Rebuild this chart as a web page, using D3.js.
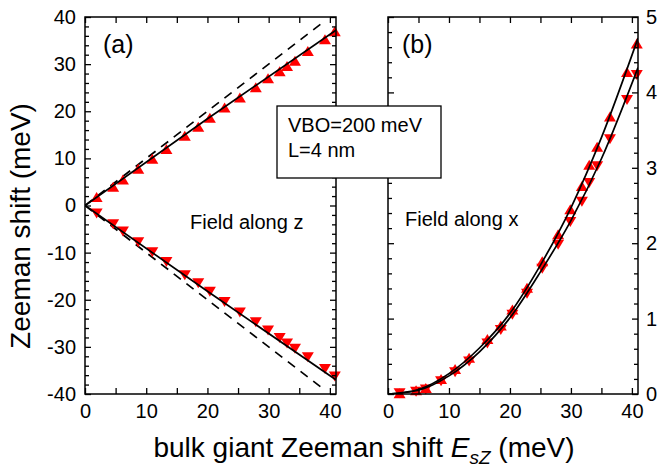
<!DOCTYPE html>
<html>
<head>
<meta charset="utf-8">
<script src="https://cdn.jsdelivr.net/npm/d3@7"></script>
<style>
  html, body { margin: 0; padding: 0; background: #fff; }
  svg { display: block; font-family: "Liberation Sans", Arial, Helvetica, sans-serif; }
  .axis text { font-size: 20px; fill: #000; }
  .axis line { stroke: #000; stroke-width: 1.3px; }
  .axis path.domain { display: none; }
</style>
</head>
<body>
<svg id="chart" width="659" height="474"></svg>
<script>
// ---------- data ----------
// bulk giant Zeeman shift values (meV) at which the points were computed
const esz = [1.9, 4.6, 6.2, 8.7, 11.0, 13.3, 16.3, 18.5, 20.4, 22.8, 25.3, 27.9, 29.9, 31.8, 33.0, 34.3, 36.4, 39.2, 40.8];
// panel (a): field along z
const zUp   = [1.8, 4.0, 5.5, 7.8, 9.9, 12.0, 14.8, 16.7, 18.6, 20.8, 22.9, 25.1, 27.0, 28.5, 29.6, 30.7, 32.8, 35.3, 37.0];
const zDown = [-1.7, -4.0, -5.5, -7.8, -9.9, -12.0, -14.8, -16.5, -18.3, -20.5, -22.7, -24.8, -26.5, -28.1, -29.3, -30.4, -32.2, -34.7, -36.3];
// fitted (solid) lines, panel (a)
const zFitX    = [0, 20, 41];
const zFitUp   = [0, 18.4, 37.2];
const zFitDown = [0, -18.2, -37.0];
// reference dashed lines (E = +/- Esz), panel (a)
const zRefX    = [0, 38.9];
const zRefUp   = [0, 38.9];
const zRefDown = [0, -38.9];
// panel (b): field along x
const xUp   = [0.01, 0.05, 0.08, 0.20, 0.33, 0.48, 0.73, 0.91, 1.12, 1.41, 1.76, 2.12, 2.45, 2.76, 3.04, 3.28, 3.68, 4.27, 4.65];
const xDown = [0.01, 0.03, 0.06, 0.17, 0.29, 0.43, 0.67, 0.85, 1.05, 1.33, 1.66, 1.98, 2.28, 2.55, 2.80, 3.02, 3.38, 3.90, 4.23];
// fitted curves, panel (b)
const xFitX    = [0, 5, 10, 15, 20, 25, 30, 35, 41];
const xFitUp   = [0, 0.06, 0.27, 0.61, 1.07, 1.71, 2.47, 3.40, 4.72];
const xFitDown = [0, 0.05, 0.24, 0.56, 1.01, 1.62, 2.30, 3.12, 4.33];
// ticks
const xTicks = [0, 5, 10, 15, 20, 25, 30, 35, 40];
const xTickLabels = [0, 10, 20, 30, 40];
const aYMajor = [-40, -30, -20, -10, 0, 10, 20, 30, 40];
const bYMajor = [0, 1, 2, 3, 4, 5];
const legendLines = ["VBO=200 meV", "L=4 nm"];

// ---------- layout ----------
const svg = d3.select("#chart");
const RED = "#ff0000";
const A = { x0: 85, x1: 336, y0: 394, y1: 17 };
const B = { x0: 388, x1: 638, y0: 394, y1: 17 };

const xa = d3.scaleLinear().domain([0, 41]).range([A.x0, A.x1]);
const ya = d3.scaleLinear().domain([-40, 40]).range([A.y0, A.y1]);
const xb = d3.scaleLinear().domain([0, 41]).range([B.x0, B.x1]);
const yb = d3.scaleLinear().domain([0, 5]).range([B.y0, B.y1]);

const aYMinor = d3.range(-40, 40.01, 2).filter(v => v % 10 !== 0);
const bYMinor = d3.range(0, 50, 2).map(v => v / 10).filter(v => Math.abs(v - Math.round(v)) > 1e-6);

const defs = svg.append("defs");
function clip(id, P) {
  defs.append("clipPath").attr("id", id).append("rect")
    .attr("x", P.x0).attr("y", P.y1).attr("width", P.x1 - P.x0).attr("height", P.y0 - P.y1);
}
clip("clipA", A); clip("clipB", B);

function drawAxes(P, x, y, yMajor, yMinor, rightLabels) {
  const fmtX = d => xTickLabels.includes(d) ? d : "";
  svg.append("g").attr("class", "axis").attr("transform", `translate(0,${P.y0})`)
    .call(d3.axisBottom(x).tickValues(xTicks).tickSize(-6).tickSizeOuter(0).tickPadding(10).tickFormat(fmtX));
  svg.append("g").attr("class", "axis").attr("transform", `translate(0,${P.y1})`)
    .call(d3.axisTop(x).tickValues(xTicks).tickSize(-6).tickSizeOuter(0).tickFormat(""));
  // left
  svg.append("g").attr("class", "axis").attr("transform", `translate(${P.x0},0)`)
    .call(d3.axisLeft(y).tickValues(yMajor).tickSize(-6).tickSizeOuter(0).tickPadding(9)
      .tickFormat(rightLabels ? () => "" : d => d));
  svg.append("g").attr("class", "axis").attr("transform", `translate(${P.x0},0)`)
    .call(d3.axisLeft(y).tickValues(yMinor).tickSize(-4).tickSizeOuter(0).tickFormat(""));
  // right
  svg.append("g").attr("class", "axis").attr("transform", `translate(${P.x1},0)`)
    .call(d3.axisRight(y).tickValues(yMajor).tickSize(-6).tickSizeOuter(0).tickPadding(8)
      .tickFormat(rightLabels ? d => d : () => ""));
  svg.append("g").attr("class", "axis").attr("transform", `translate(${P.x1},0)`)
    .call(d3.axisRight(y).tickValues(yMinor).tickSize(-4).tickSizeOuter(0).tickFormat(""));
  svg.append("rect").attr("x", P.x0).attr("y", P.y1).attr("width", P.x1 - P.x0).attr("height", P.y0 - P.y1)
    .attr("fill", "none").attr("stroke", "#000").attr("stroke-width", 1.5);
}

function drawLine(xs, ys, x, y, clipId, dashed, curve) {
  svg.append("path")
    .datum(xs.map((d, i) => [d, ys[i]]))
    .attr("clip-path", `url(#${clipId})`)
    .attr("fill", "none").attr("stroke", "#000").attr("stroke-width", 1.7)
    .attr("stroke-dasharray", dashed ? "9,7" : null)
    .attr("d", d3.line().x(d => x(d[0])).y(d => y(d[1])).curve(curve || d3.curveLinear));
}

const TW = 12, TH = 10;
const triUp = `M0,${-TH / 2}L${TW / 2},${TH / 2}L${-TW / 2},${TH / 2}Z`;
const triDown = `M0,${TH / 2}L${TW / 2},${-TH / 2}L${-TW / 2},${-TH / 2}Z`;
function drawMarks(xs, ys, x, y, shape) {
  svg.append("g").selectAll("path").data(xs.map((d, i) => [d, ys[i]])).join("path")
    .attr("d", shape).attr("fill", RED)
    .attr("transform", d => `translate(${x(d[0])},${y(d[1])})`);
}

// ---------- panel (a) ----------
drawLine(zRefX, zRefUp, xa, ya, "clipA", true);
drawLine(zRefX, zRefDown, xa, ya, "clipA", true);
drawMarks(esz, zUp, xa, ya, triUp);
drawMarks(esz, zDown, xa, ya, triDown);
drawLine(zFitX, zFitUp, xa, ya, "clipA", false, d3.curveMonotoneX);
drawLine(zFitX, zFitDown, xa, ya, "clipA", false, d3.curveMonotoneX);
drawAxes(A, xa, ya, aYMajor, aYMinor, false);

// ---------- panel (b) ----------
drawMarks(esz, xUp, xb, yb, triUp);
drawMarks(esz, xDown, xb, yb, triDown);
drawLine(xFitX, xFitUp, xb, yb, "clipB", false, d3.curveMonotoneX);
drawLine(xFitX, xFitDown, xb, yb, "clipB", false, d3.curveMonotoneX);
drawAxes(B, xb, yb, bYMajor, bYMinor, true);

// ---------- annotations ----------
svg.append("text").attr("x", 103).attr("y", 53).attr("font-size", 25).text("(a)");
svg.append("text").attr("x", 402).attr("y", 53).attr("font-size", 25).text("(b)");
svg.append("text").attr("x", 190).attr("y", 229).attr("font-size", 20).text("Field along z");
svg.append("text").attr("x", 405).attr("y", 226).attr("font-size", 20).text("Field along x");

// legend box
const lg = svg.append("g");
lg.append("rect").attr("x", 277).attr("y", 106).attr("width", 164).attr("height", 72)
  .attr("fill", "#fff").attr("stroke", "#000").attr("stroke-width", 1.3);
legendLines.forEach((t, i) => {
  lg.append("text").attr("x", 288).attr("y", 132 + i * 25).attr("font-size", 20).text(t);
});

// axis titles
svg.append("text").attr("transform", "translate(30,226) rotate(-90)")
  .attr("text-anchor", "middle").attr("font-size", 28).text("Zeeman shift (meV)");
const xt = svg.append("text").attr("x", 364).attr("y", 457).attr("text-anchor", "middle").attr("font-size", 28);
xt.append("tspan").text("bulk giant Zeeman shift ");
xt.append("tspan").attr("font-style", "italic").text("E");
xt.append("tspan").attr("font-style", "italic").attr("font-size", 19).attr("dy", 7).text("sZ");
xt.append("tspan").attr("dy", -7).text(" (meV)");
</script>
</body>
</html>
